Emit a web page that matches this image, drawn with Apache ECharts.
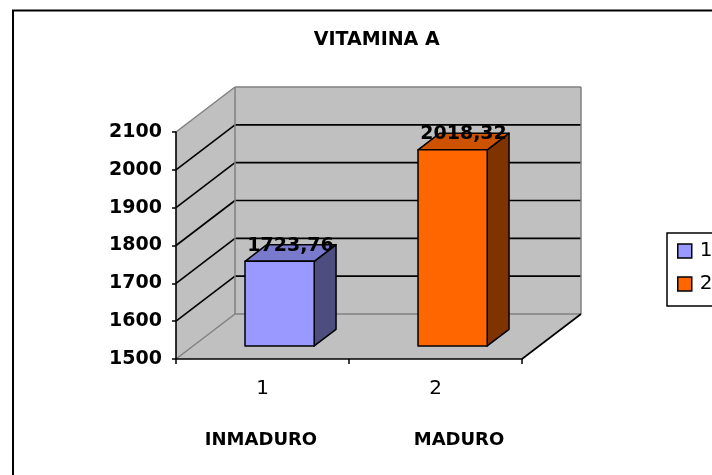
<!DOCTYPE html>
<html>
<head>
<meta charset="utf-8">
<script src="https://cdn.jsdelivr.net/npm/echarts@6/dist/echarts.min.js"></script>
<style>
  html, body { margin: 0; padding: 0; background: #fff; }
  #chart { width: 712px; height: 475px; }
</style>
</head>
<body>
<div id="chart"></div>
<script>
// data
var categories = ['1', '2'];
var groupNames = ['INMADURO', 'MADURO'];
var seriesNames = ['1', '2'];
var values = [1723.76, 2018.32];
var yMin = 1500, yMax = 2100, yStep = 100;
var gridValues = [1600, 1700, 1800, 1900, 2000];

// fake 3d depth (oblique projection)
var DX = 59, DY = -45;
var FONT = 'DejaVu Sans';

var faceColors = [
    {front: '#9999FF', top: '#7A7ACC', side: '#4D4D80'},
    {front: '#FF6600', top: '#CC5200', side: '#7F3300'}
];

function line(x1, y1, x2, y2, color, w) {
    return {type: 'line', shape: {x1: x1, y1: y1, x2: x2, y2: y2},
        style: {stroke: color, lineWidth: w}};
}

function renderWalls(params, api) {
    var cs = params.coordSys;
    var x0 = cs.x, x1 = cs.x + cs.width;
    var yT = api.coord([0, yMax])[1];
    var yB = api.coord([0, yMin])[1];
    var wall = {fill: '#C0C0C0'};
    var kids = [
        {type: 'polygon', shape: {points: [[x0, yB], [x0, yT], [x0 + DX, yT + DY], [x0 + DX, yB + DY]]}, style: wall},
        {type: 'rect', shape: {x: x0 + DX, y: yT + DY, width: x1 - x0, height: yB - yT}, style: wall},
        {type: 'polygon', shape: {points: [[x0, yB], [x1, yB], [x1 + DX, yB + DY], [x0 + DX, yB + DY]]}, style: wall}
    ];
    gridValues.forEach(function (v) {
        var y = api.coord([0, v])[1];
        kids.push(line(x0, y, x0 + DX, y + DY, '#000', 1.6));
        kids.push(line(x0 + DX, y + DY, x1 + DX, y + DY, '#000', 1.6));
    });
    var g = '#808080';
    kids.push(line(x0, yT, x0 + DX, yT + DY, g, 1.5));
    kids.push(line(x0 + DX, yT + DY, x1 + DX, yT + DY, g, 1.5));
    kids.push(line(x1 + DX, yT + DY, x1 + DX, yB + DY, g, 1.5));
    kids.push(line(x0 + DX, yT + DY, x0 + DX, yB + DY, g, 1.5));
    kids.push(line(x0 + DX, yB + DY, x1 + DX, yB + DY, g, 1.5));
    kids.push(line(x0, yB, x0 + DX, yB + DY, g, 1.5));
    kids.push(line(x1, yB, x1 + DX, yB + DY, '#000', 1.6));
    return {type: 'group', children: kids};
}

function makeBarRenderer(idx) {
    var col = faceColors[idx];
    return function (params, api) {
        var c = api.coord([api.value(0), api.value(1)]);
        var base = api.coord([api.value(0), yMin]);
        var band = api.size([1, 0])[0];
        var w = band * 0.4;
        var ox = DX * 0.29, oy = DY * 0.29;
        var dx = DX * 0.37, dy = DY * 0.37;
        var xl = c[0] - w / 2 + ox, xr = xl + w;
        var yt = c[1] + oy, yb = base[1] + oy;
        var st = {stroke: '#000', lineWidth: 1.5, lineJoin: 'round'};
        var label = String(api.value(1).toFixed(2)).replace('.', ',');
        return {type: 'group', children: [
            {type: 'polygon', shape: {points: [[xr, yt], [xr + dx, yt + dy], [xr + dx, yb + dy], [xr, yb]]},
                style: Object.assign({fill: col.side}, st)},
            {type: 'polygon', shape: {points: [[xl, yt], [xr, yt], [xr + dx, yt + dy], [xl + dx, yt + dy]]},
                style: Object.assign({fill: col.top}, st)},
            {type: 'rect', shape: {x: xl, y: yt, width: w, height: yb - yt},
                style: Object.assign({fill: col.front}, st)},
            {type: 'text', x: c[0] + ox + dx / 2, y: yt + dy + 1,
                style: {text: label, fill: '#000', font: 'bold 19px "' + FONT + '"',
                    align: 'center', verticalAlign: 'middle'}}
        ]};
    };
}

var chart = echarts.init(document.getElementById('chart'));

var series = [{
    type: 'custom', name: 'walls', z: 1, silent: true,
    renderItem: renderWalls, data: [[0, yMin]]
}];
values.forEach(function (v, i) {
    series.push({
        type: 'custom', name: seriesNames[i], z: 10,
        itemStyle: {color: faceColors[i].front},
        renderItem: makeBarRenderer(i),
        data: [[i, v]]
    });
});

var graphics = [
    {type: 'rect', shape: {x: 13, y: 10.5, width: 800, height: 600},
        style: {fill: null, stroke: '#000', lineWidth: 2}, z: 100},
    {type: 'text', x: 376.7, y: 40, style: {text: 'VITAMINA A', fill: '#000',
        font: 'bold 19px "' + FONT + '"', align: 'center', verticalAlign: 'middle'}}
];
var nameX = [261, 459];
groupNames.forEach(function (n, i) {
    graphics.push({type: 'text', x: nameX[i], y: 440, style: {text: n, fill: '#000',
        font: 'bold 18px "' + FONT + '"', align: 'center', verticalAlign: 'middle'}});
});

chart.setOption({
    animation: false,
    backgroundColor: '#fff',
    grid: {left: 176, top: 132, width: 346, height: 227},
    legend: {
        data: seriesNames, orient: 'vertical', left: 667, top: 233,
        padding: [8, 30, 12, 10], itemGap: 13, itemWidth: 14, itemHeight: 14,
        icon: 'rect', borderColor: '#000', borderWidth: 1.5,
        itemStyle: {borderColor: '#000', borderWidth: 1.5},
        textStyle: {fontFamily: FONT, fontSize: 20, color: '#000', padding: [0, 0, 0, 3]}
    },
    xAxis: {
        type: 'category', data: categories, z: 5,
        axisLine: {lineStyle: {color: '#000', width: 1.6}},
        axisTick: {show: true, length: 5, lineStyle: {color: '#000', width: 1.5}},
        axisLabel: {fontFamily: FONT, fontSize: 20, color: '#000', margin: 20},
        splitLine: {show: false}
    },
    yAxis: {
        type: 'value', min: yMin, max: yMax, interval: yStep, z: 5,
        axisLine: {show: true, lineStyle: {color: '#000', width: 1.6}},
        axisTick: {show: true, length: 4, lineStyle: {color: '#000', width: 1.5}},
        axisLabel: {fontFamily: FONT, fontSize: 19, fontWeight: 'bold', color: '#000', margin: 14,
            formatter: function (v) { return String(v); }},
        splitLine: {show: false}
    },
    graphic: graphics,
    series: series
});
</script>
</body>
</html>
